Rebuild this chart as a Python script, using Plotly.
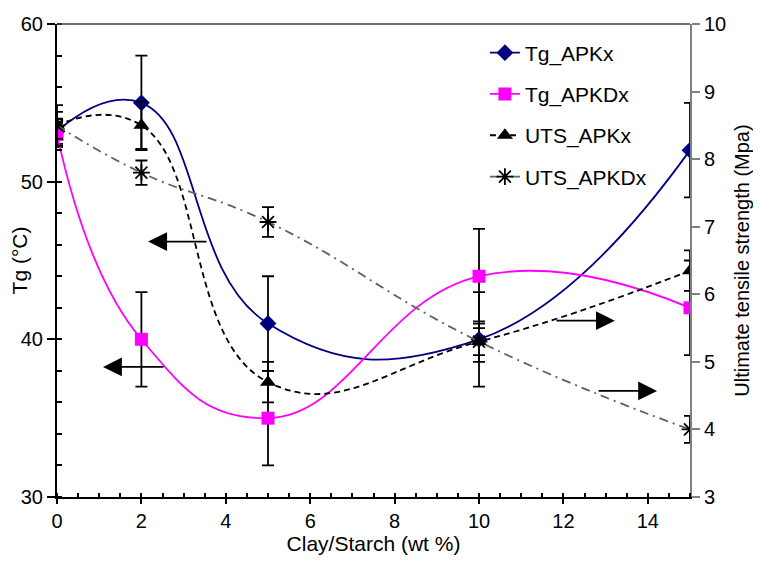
import plotly.graph_objects as go

clay = [0, 2, 5, 10, 15]
tg_apkx = [53.2, 55, 41, 40, 52]
tg_apkx_err = [0.8, 3, 3, 3, 3]
tg_apkdx = [53, 40, 35, 44, 42]
tg_apkdx_err = [0.8, 3, 3, 3, 3]
uts_apkx = [8.5, 8.5, 4.7, 5.3, 6.35]
uts_apkx_err = [0.3, 0.35, 0.3, 0.3, 0.3]
uts_apkdx = [8.5, 7.8, 7.07, 5.3, 4.0]
uts_apkdx_err = [0.2, 0.18, 0.22, 0.2, 0.2]

x_ticks = [0, 2, 4, 6, 8, 10, 12, 14]
y_ticks = [30, 40, 50, 60]
y2_ticks = [3, 4, 5, 6, 7, 8, 9, 10]

# arrow annotations: (head_x, tail_x, y, axis)
arrows = [
    (2.16, 3.58, 46.2, "y"),
    (1.09, 2.56, 38.25, "y"),
    (13.22, 11.8, 5.61, "y2"),
    (14.22, 12.8, 4.57, "y2"),
]

FONT = "Liberation Sans, Arial, sans-serif"

def err(arr):
    return dict(type="data", array=arr, visible=True, color="black",
                thickness=1.8, width=6)

fig = go.Figure()
fig.add_trace(go.Scatter(
    x=clay, y=tg_apkx, name="Tg_APKx", mode="lines+markers",
    line=dict(color="#000080", width=1.8, shape="spline", smoothing=1.3),
    marker=dict(symbol="diamond", size=13, color="#000080"),
    error_y=err(tg_apkx_err), legendgroup="a"))
fig.add_trace(go.Scatter(
    x=clay, y=tg_apkdx, name="Tg_APKDx", mode="lines+markers",
    line=dict(color="#FF00FF", width=1.8, shape="spline", smoothing=1.3),
    marker=dict(symbol="square", size=13, color="#FF00FF"),
    error_y=err(tg_apkdx_err), legendgroup="b"))
fig.add_trace(go.Scatter(
    x=clay, y=uts_apkx, name="UTS_APKx", mode="lines+markers", yaxis="y2",
    line=dict(color="black", width=1.8, dash="6px,4px", shape="spline", smoothing=1.3),
    marker=dict(symbol="triangle-up", size=14, color="black"),
    error_y=err(uts_apkx_err), legendgroup="c"))
fig.add_trace(go.Scatter(
    x=clay, y=uts_apkdx, name="UTS_APKDx", mode="lines+markers", yaxis="y2",
    line=dict(color="#606060", width=1.8, dash="9px,5px,2px,5px", shape="spline", smoothing=1.3),
    marker=dict(symbol="asterisk-open", size=14, color="black",
                line=dict(color="black", width=1.8)),
    error_y=err(uts_apkdx_err), legendgroup="d"))

for hx, tx, yy, ax in arrows:
    fig.add_annotation(x=hx, y=yy, ax=tx, ay=yy, xref="x", yref=ax,
                       axref="x", ayref=ax, text="", showarrow=True,
                       arrowhead=2, arrowsize=2.1, arrowwidth=1.8,
                       arrowcolor="black")

fig.add_shape(type="line", xref="paper", yref="paper", x0=0, x1=1, y0=1, y1=1,
              line=dict(color="#404040", width=1.5))

fig.update_layout(
    width=753, height=555,
    margin=dict(l=49, r=71, t=16, b=66, autoexpand=False),
    paper_bgcolor="white", plot_bgcolor="white",
    font=dict(family=FONT, size=20, color="black"),
    showlegend=True,
    legend=dict(x=0.676, y=0.982, xanchor="left", yanchor="top",
                bgcolor="rgba(255,255,255,0)", font=dict(size=21),
                tracegroupgap=11),
    xaxis=dict(range=[0, 15], tickvals=x_ticks, showgrid=False, zeroline=False,
               automargin=False,
               showline=True, linecolor="black", linewidth=2,
               ticks="outside", ticklen=5, tickwidth=1.5, tickcolor="black",
               minor=dict(dtick=0.5, ticks="inside", ticklen=4, tickwidth=1.5,
                          tickcolor="black", showgrid=False),
               title=dict(text="Clay/Starch (wt %)", font=dict(size=21), standoff=4),
               tickfont=dict(size=20)),
    yaxis=dict(range=[30, 60], tickvals=y_ticks, showgrid=False, zeroline=False,
               automargin=False,
               showline=True, linecolor="black", linewidth=2,
               ticks="outside", ticklen=8, tickwidth=1.5, tickcolor="black",
               minor=dict(dtick=2, ticks="inside", ticklen=5, tickwidth=1.5,
                          tickcolor="black", showgrid=False),
               title=dict(text="Tg (°C)", font=dict(size=21), standoff=0),
               tickfont=dict(size=20)),
    yaxis2=dict(range=[3, 10], tickvals=y2_ticks, overlaying="y", side="right",
                automargin=False,
                showgrid=False, zeroline=False, showline=True,
                linecolor="#808080", linewidth=2,
                ticks="outside", ticklen=8, tickwidth=1.5, tickcolor="#808080",
                title=dict(text="Ultimate tensile strength (Mpa)", font=dict(size=20), standoff=10),
                tickfont=dict(size=20)),
)

fig.write_html("out.html")
